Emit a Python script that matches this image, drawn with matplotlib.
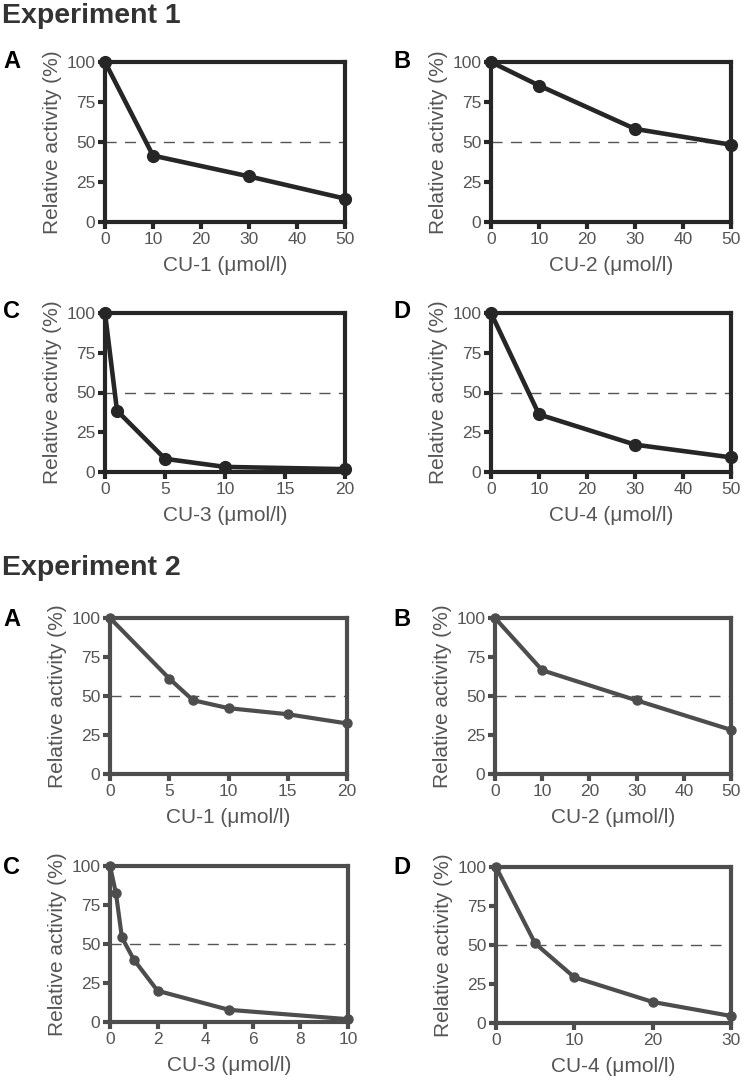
import matplotlib
matplotlib.use("Agg")
import matplotlib.pyplot as plt

plt.rcParams['font.family'] = ['Liberation Sans', 'DejaVu Sans']

# Experiment 1
e1_x_cu1 = [0, 10, 30, 50]
e1_y_cu1 = [100, 41.5, 28.5, 14.6]
e1_x_cu2 = [0, 10, 30, 50]
e1_y_cu2 = [100, 85.3, 58.2, 48.3]
e1_x_cu3 = [0, 1, 5, 10, 20]
e1_y_cu3 = [100, 38.6, 8.3, 3.2, 1.8]
e1_x_cu4 = [0, 10, 30, 50]
e1_y_cu4 = [100, 36.2, 17.2, 9.2]

# Experiment 2
e2_x_cu1 = [0, 5, 7, 10, 15, 20]
e2_y_cu1 = [100, 61.2, 47.3, 42.2, 38.3, 32.4]
e2_x_cu2 = [0, 10, 30, 50]
e2_y_cu2 = [100, 66.5, 47.2, 28.3]
e2_x_cu3 = [0, 0.25, 0.5, 1, 2, 5, 10]
e2_y_cu3 = [100, 82.5, 54.2, 40.0, 20.0, 7.8, 1.8]
e2_x_cu4 = [0, 5, 10, 20, 30]
e2_y_cu4 = [100, 51.0, 29.3, 13.5, 4.5]

xlabels = ['CU-1 (\u03bcmol/l)', 'CU-2 (\u03bcmol/l)', 'CU-3 (\u03bcmol/l)', 'CU-4 (\u03bcmol/l)']
panel_letters = ['A', 'B', 'C', 'D']
yticks = [0, 25, 50, 75, 100]

W, H = 742, 1080
fig = plt.figure(figsize=(W / 100, H / 100), dpi=100)


def make_panel(box, x, y, xticks, xlabel, color, lw, ms):
    l, t, r, b = box
    ax = fig.add_axes([l / W, 1 - b / H, (r - l) / W, (b - t) / H])
    ax.axhline(50, color='#555555', lw=1.0, dashes=(8, 6), zorder=1)
    ax.plot(x, y, color=color, lw=lw, marker='o', ms=ms, clip_on=False, zorder=3)
    ax.set_xlim(xticks[0], xticks[-1])
    ax.set_ylim(0, 100)
    ax.set_xticks(xticks)
    ax.set_yticks(yticks)
    for s in ax.spines.values():
        s.set_linewidth(3.0)
        s.set_color(color)
    ax.tick_params(axis='both', length=5, width=3, color=color,
                   labelcolor='#555555', labelsize=12.5, pad=2)
    ax.set_xlabel(xlabel, fontsize=15, color='#555555', labelpad=7)
    ax.set_ylabel('Relative activity (%)', fontsize=15, color='#555555', labelpad=3)
    return ax


c1 = '#262626'
c2 = '#4d4d4d'

# boxes in pixels: left, top, right, bottom
e1_boxes = [(105, 62, 345, 222), (491, 62, 731, 222), (105, 313, 345, 472), (491, 313, 731, 472)]
e2_boxes = [(110, 618, 347, 774), (495, 618, 731, 774), (110, 866, 348, 1022), (496, 867, 731, 1023)]

e1_data = [(e1_x_cu1, e1_y_cu1, [0, 10, 20, 30, 40, 50]),
           (e1_x_cu2, e1_y_cu2, [0, 10, 20, 30, 40, 50]),
           (e1_x_cu3, e1_y_cu3, [0, 5, 10, 15, 20]),
           (e1_x_cu4, e1_y_cu4, [0, 10, 20, 30, 40, 50])]
e2_data = [(e2_x_cu1, e2_y_cu1, [0, 5, 10, 15, 20]),
           (e2_x_cu2, e2_y_cu2, [0, 10, 20, 30, 40, 50]),
           (e2_x_cu3, e2_y_cu3, [0, 2, 4, 6, 8, 10]),
           (e2_x_cu4, e2_y_cu4, [0, 10, 20, 30])]

for i, (box, (x, y, xt)) in enumerate(zip(e1_boxes, e1_data)):
    make_panel(box, x, y, xt, xlabels[i], c1, 3.3, 8.5)
    lx = 3 if i % 2 == 0 else 393
    fig.text(lx / W, 1 - (box[1] - 1) / H, panel_letters[i], fontsize=17,
             fontweight='bold', color='black', va='center', ha='left')

for i, (box, (x, y, xt)) in enumerate(zip(e2_boxes, e2_data)):
    make_panel(box, x, y, xt, xlabels[i], c2, 3.0, 6.5)
    lx = 3 if i % 2 == 0 else 393
    fig.text(lx / W, 1 - (box[1] + 1) / H, panel_letters[i], fontsize=17,
             fontweight='bold', color='black', va='center', ha='left')

fig.text(2 / W, 1 - 16 / H, 'Experiment 1', fontsize=20.5, fontweight='bold',
         color='#333333', va='center', ha='left')
fig.text(2 / W, 1 - 568 / H, 'Experiment 2', fontsize=20.5, fontweight='bold',
         color='#333333', va='center', ha='left')

fig.savefig('out.png', dpi=100)
